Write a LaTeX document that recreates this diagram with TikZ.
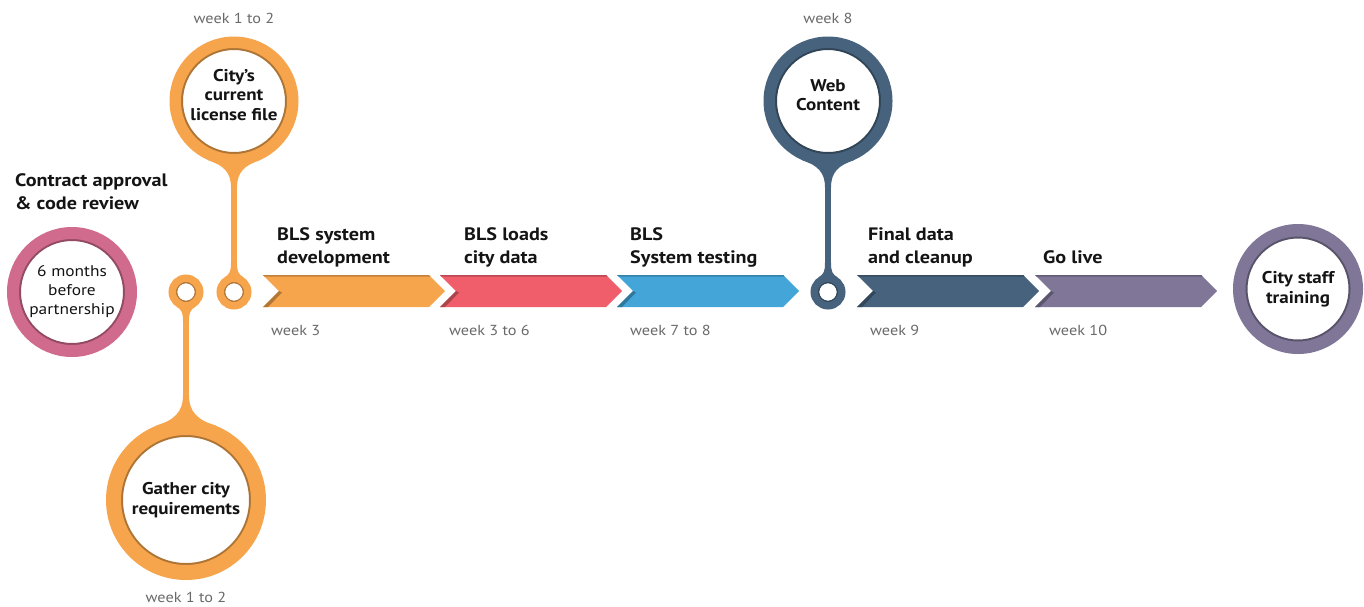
\documentclass[tikz,border=0pt]{standalone}
\usepackage{fontspec}
\setmainfont{PT Sans}[FakeStretch=1.12]
\usetikzlibrary{calc, positioning}

\definecolor{tlorange}{RGB}{247,165,76}
\definecolor{tlred}{RGB}{239,94,106}
\definecolor{tlblue}{RGB}{67,165,216}
\definecolor{tlslate}{RGB}{70,98,125}
\definecolor{tlpurple}{RGB}{127,118,152}
\definecolor{tlpink}{RGB}{209,107,142}
\definecolor{ink}{RGB}{20,20,20}
\definecolor{weekgray}{RGB}{105,105,105}

\tikzset{
  % big circle: colour, outer radius, band width
  bubble/.style n args={3}{
    circle, fill=white, draw=#1, line width=#3,
    minimum size=2*#2-#3, inner sep=0pt,
    path picture={
      \draw[#1!70!black, line width=4pt]
        (path picture bounding box.center) circle (#2-#3);
    }
  },
  bubble text/.style={
    inner sep=0pt, align=center, text=ink,
    font=\bfseries\fontsize{17}{19.5}\selectfont
  },
  % small ring at the end of a stem
  knob/.style={
    circle, fill=white, draw=#1, line width=7.5pt,
    minimum size=27.5pt, inner sep=0pt,
    path picture={
      \draw[#1!70!black, line width=2.5pt]
        (path picture bounding box.center) circle (10pt);
    }
  },
  stem/.style={draw=#1, line width=6pt},
  heading/.style={
    anchor=south west, inner sep=0pt, align=left, text=ink,
    font=\bfseries\fontsize{18}{23}\selectfont,
    execute at end node=\strut
  },
  week/.style={
    anchor=base west, inner sep=0pt, text=weekgray,
    font=\fontsize{14.5}{17}\selectfont
  }
}

% widening where a stem meets a ring
% #1 colour, #2 joint, #3 half spread, #4 length, #5 dip, #6 1 = stem below, -1 = stem above
\newcommand{\stemflare}[6]{%
  \fill[#1] ($(#2)+(-3,{#6*#4})$)
    .. controls ($(#2)+(-3,{#6*0.3*#4})$) and ($(#2)+({-0.4*#3},0)$)
    .. ($(#2)+({-#3},{-#6*#5})$) -- ($(#2)+({#3},{-#6*#5})$)
    .. controls ($(#2)+({0.4*#3},0)$) and ($(#2)+(3,{#6*0.3*#4})$)
    .. ($(#2)+(3,{#6*#4})$) -- cycle;}

\begin{document}
\begin{tikzpicture}[x=1pt, y=-1pt]
  \useasboundingbox (0,0) rectangle (1364,606);

  % chevron band
  \foreach \x/\col in {263/tlorange, 440/tlred, 617/tlblue, 857/tlslate, 1035/tlpurple} {
    \fill[\col] (\x,275) -- ++(166,0) -- ++(16,16) -- ++(-16,16)
      -- ++(-166,0) -- ++(16,-16) -- cycle;
    \fill[\col!78!black] (\x,275) -- ++(166,0) -- ++(1.5,1.5) -- ({\x+1.5},276.5) -- cycle;
    \fill[\col!72!black] ({\x+16},291) -- (\x,307) -- ({\x+5},307) -- ({\x+19},292.5) -- cycle;
  }

  % circles and rings
  \node[bubble={tlpink}{65pt}{12pt}] (contract) at (72,292) {};
  \node[bubble={tlorange}{64.5pt}{11.5pt}] (licence) at (234,101) {};
  \node[knob=tlorange] (licenceKnob) at (234,292) {};
  \node[knob=tlorange] (gatherKnob) at (186,292) {};
  \node[bubble={tlorange}{80pt}{15pt}] (gather) at (186,500) {};
  \node[bubble={tlslate}{64.5pt}{11.5pt}] (web) at (828,101) {};
  \node[knob=tlslate] (webKnob) at (828,292) {};
  \node[bubble={tlpurple}{65pt}{12.5pt}] (training) at (1298,289) {};

  % stems
  \draw[stem=tlorange] (licence.south) -- (licenceKnob.north);
  \stemflare{tlorange}{licence.south}{26}{22}{5.5}{1}
  \stemflare{tlorange}{licenceKnob.north}{10}{12}{3.1}{-1}

  \draw[stem=tlorange] (gatherKnob.south) -- (gather.north);
  \stemflare{tlorange}{gatherKnob.south}{10}{12}{3.1}{1}
  \stemflare{tlorange}{gather.north}{30}{25}{5.8}{-1}

  \draw[stem=tlslate] (web.south) -- (webKnob.north);
  \stemflare{tlslate}{web.south}{26}{22}{5.5}{1}
  \stemflare{tlslate}{webKnob.north}{10}{12}{3.1}{-1}

  % text inside the circles
  \node[bubble text, font=\fontsize{15.5}{19}\selectfont]
    (contractNote) at (contract) {6 months\\before\\partnership};
  \node[bubble text] (licenceNote) at ([yshift=6pt]licence.center) {City’s\\current\\license file};
  \node[bubble text] (gatherNote) at (gather) {Gather city\\requirements};
  \node[bubble text] (webNote) at ([yshift=6pt]web.center) {Web\\Content};
  \node[bubble text] (trainingNote) at (training) {City staff\\training};

  % step titles
  \node[heading] (contractText) at (15,217) {Contract approval\\\& code review};
  \node[heading] (devText) at (277,271) {BLS system\\development};
  \node[heading] (loadText) at (464,271) {BLS loads\\city data};
  \node[heading] (testText) at (630,271) {BLS\\System testing};
  \node[heading] (finalText) at (868,271) {Final data\\and cleanup};
  \node[heading] (liveText) at (1043,271) {Go live};

  % weeks
  \node[week, above=13pt of licence] (licenceWeek) {week 1 to 2};
  \node[week, above=13pt of web] (webWeek) {week 8};
  \node[week, below=12pt of gather] (gatherWeek) {week 1 to 2};
  \node[week] (devWeek) at (271,335) {week 3};
  \node[week] (loadWeek) at (449,335) {week 3 to 6};
  \node[week] (testWeek) at (630,335) {week 7 to 8};
  \node[week] (finalWeek) at (870,335) {week 9};
  \node[week] (liveWeek) at (1049,335) {week 10};
\end{tikzpicture}
\end{document}
